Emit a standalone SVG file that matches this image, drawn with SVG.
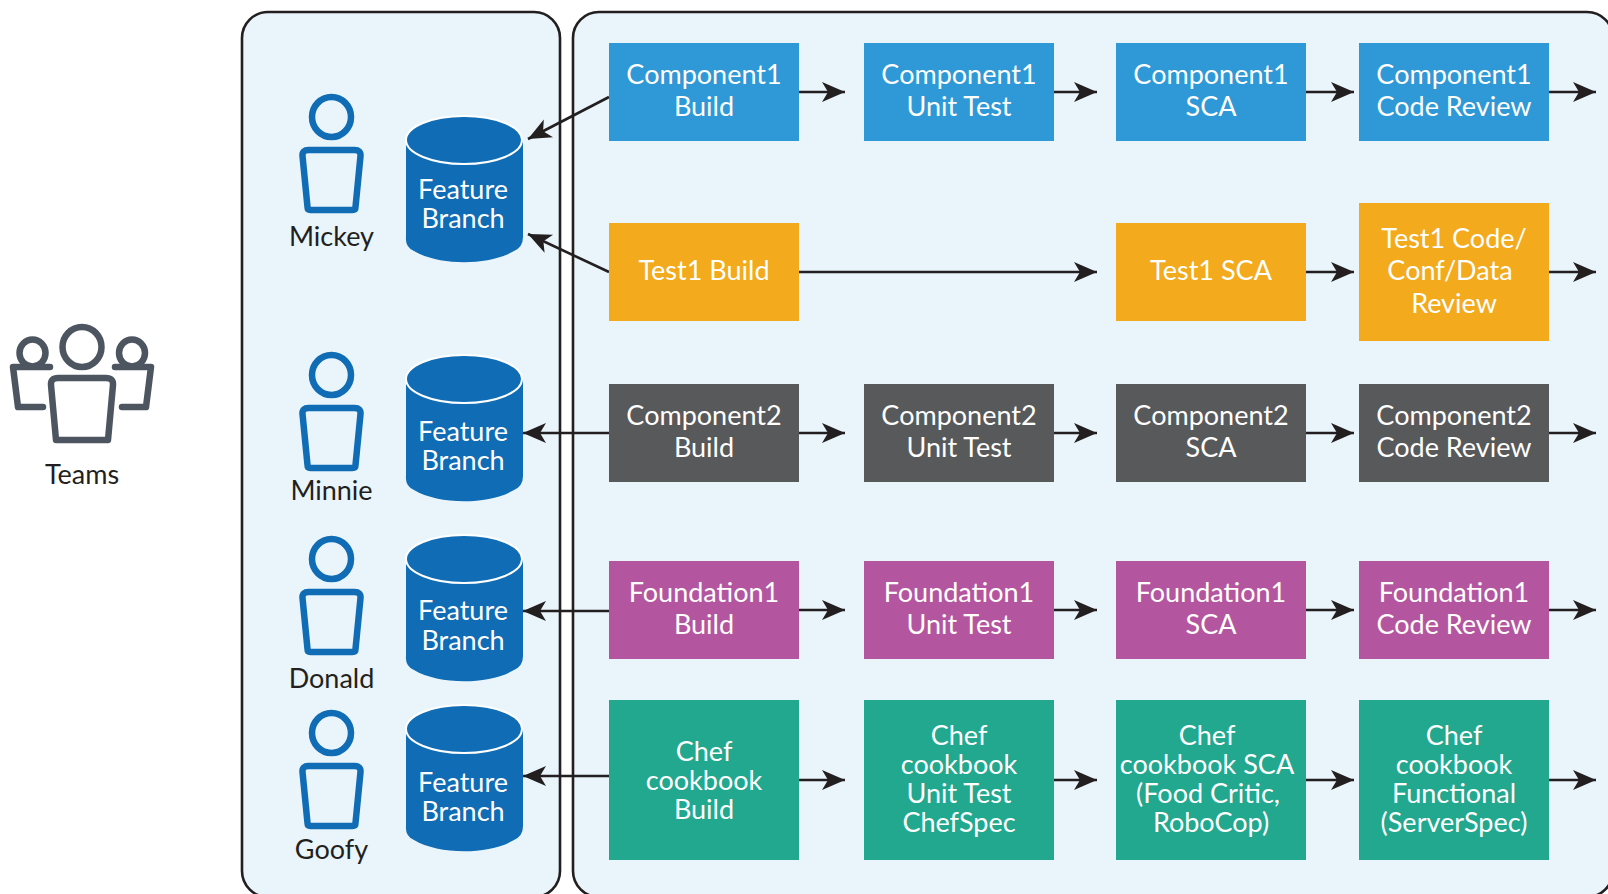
<svg xmlns="http://www.w3.org/2000/svg" xmlns:xlink="http://www.w3.org/1999/xlink" width="1608" height="894" viewBox="0 0 1608 894">
<style>
text{font-family:"Lato","Liberation Sans",sans-serif;font-size:27px;text-anchor:middle}
.w{fill:#fff}.d{fill:#231f20}
.panel{fill:#e9f5fa;stroke:#231f20;stroke-width:2.6}
.c1{fill:#2e99d6}.t1{fill:#f3aa1c}.c2{fill:#58595b}.f1{fill:#b4569f}.ch{fill:#21a88e}
.p{fill:none;stroke:#0f6cb5;stroke-width:6.500;stroke-linejoin:round}
.g{fill:none;stroke:#4d5660;stroke-width:6.500;stroke-linejoin:round;stroke-linecap:round}
.cy{fill:#0f6cb5}.top{fill:#0f6cb5;stroke:#fff;stroke-width:2}
.a{fill:none;stroke:#231f20;stroke-width:2.6;marker-end:url(#ah)}
</style>
<defs>
<marker id="ah" markerUnits="userSpaceOnUse" markerWidth="24" markerHeight="24" viewBox="0 0 24 24" refX="23" refY="12" orient="auto"><path d="M0 2 L23 12 L0 22 L6 12Z" fill="#231f20"/></marker>
<g id="person"><ellipse cx="0" cy="0" rx="19.5" ry="20" class="p"/><path d="M-23 33 H23 Q29.500 33 29 39 L24 90 Q24 93 21 93 H-21 Q-24 93 -24 90 L-29 39 Q-29.500 33 -23 33Z" class="p"/></g>
<g id="cyl"><path d="M-58 0 V97 Q-59 107 -50 111 C-25 126 25 126 50 111 Q59 107 59 97 V0Z" class="cy"/><ellipse cx="0" cy="0" rx="58" ry="24" class="top"/></g>
</defs>
<rect width="1608" height="894" fill="#fff"/>
<rect x="242" y="12" width="318" height="885" rx="26" class="panel"/>
<rect x="573" y="12" width="1040" height="885" rx="26" class="panel"/>
<g id="teams">
<ellipse cx="82" cy="347" rx="19.5" ry="20" class="g"/>
<path d="M58 378 H106 Q113.500 378 113 385 L108 440 H56 L51 385 Q50.500 378 58 378Z" class="g"/>
<ellipse cx="32.500" cy="353" rx="13" ry="13.500" class="g"/>
<ellipse cx="132" cy="353" rx="13" ry="13.500" class="g"/>
<path d="M50 367 H13 L18 407 H43" class="g"/>
<path d="M115 367 H151 L146 407 H122" class="g"/>
<text x="82" y="484" class="d">Teams</text>
</g>
<g id="mickey"><use xlink:href="#person" href="#person" x="331.500" y="117"/><text x="331.500" y="246" class="d">Mickey</text></g>
<g id="minnie"><use xlink:href="#person" href="#person" x="331.500" y="375"/><text x="331.500" y="500" class="d">Minnie</text></g>
<g id="donald"><use xlink:href="#person" href="#person" x="331.500" y="559"/><text x="331.500" y="688" class="d">Donald</text></g>
<g id="goofy"><use xlink:href="#person" href="#person" x="331.500" y="733"/><text x="331.500" y="859" class="d">Goofy</text></g>
<g id="branch1"><use xlink:href="#cyl" href="#cyl" x="464" y="140"/><text x="463" y="199" class="w">Feature</text><text x="463" y="228" class="w">Branch</text></g>
<g id="branch2"><use xlink:href="#cyl" href="#cyl" x="464" y="379"/><text x="463" y="441" class="w">Feature</text><text x="463" y="470" class="w">Branch</text></g>
<g id="branch3"><use xlink:href="#cyl" href="#cyl" x="464" y="559"/><text x="463" y="620" class="w">Feature</text><text x="463" y="650" class="w">Branch</text></g>
<g id="branch4"><use xlink:href="#cyl" href="#cyl" x="464" y="729"/><text x="463" y="792" class="w">Feature</text><text x="463" y="821" class="w">Branch</text></g>
<g id="connectors">
<path class="a" d="M609 97 L528 139"/><path class="a" d="M609 272 L528 234"/><path class="a" d="M609 433 H523"/><path class="a" d="M609 611 H523"/><path class="a" d="M609 776 H523"/>
<path class="a" d="M799 92 H845"/><path class="a" d="M1054 92 H1097"/><path class="a" d="M1306 92 H1354"/><path class="a" d="M1549 92 H1596"/>
<path class="a" d="M799 272 H1097"/><path class="a" d="M1306 272 H1354"/><path class="a" d="M1549 272 H1596"/>
<path class="a" d="M799 433 H845"/><path class="a" d="M1054 433 H1097"/><path class="a" d="M1306 433 H1354"/><path class="a" d="M1549 433 H1596"/>
<path class="a" d="M799 610 H845"/><path class="a" d="M1054 610 H1097"/><path class="a" d="M1306 610 H1354"/><path class="a" d="M1549 610 H1596"/>
<path class="a" d="M799 780 H845"/><path class="a" d="M1054 780 H1097"/><path class="a" d="M1306 780 H1354"/><path class="a" d="M1549 780 H1596"/>
</g>
<g id="c1build"><rect x="609" y="43" width="190" height="98" class="c1"/><text x="704" y="84" class="w">Component1</text><text x="704" y="116" class="w">Build</text></g>
<g id="c1unit"><rect x="864" y="43" width="190" height="98" class="c1"/><text x="959" y="84" class="w">Component1</text><text x="959" y="116" class="w">Unit Test</text></g>
<g id="c1sca"><rect x="1116" y="43" width="190" height="98" class="c1"/><text x="1211" y="84" class="w">Component1</text><text x="1211" y="116" class="w">SCA</text></g>
<g id="c1review"><rect x="1359" y="43" width="190" height="98" class="c1"/><text x="1454" y="84" class="w">Component1</text><text x="1454" y="116" class="w">Code Review</text></g>
<g id="t1build"><rect x="609" y="223" width="190" height="98" class="t1"/><text x="704" y="280" class="w">Test1 Build</text></g>
<g id="t1sca"><rect x="1116" y="223" width="190" height="98" class="t1"/><text x="1211" y="280" class="w">Test1 SCA</text></g>
<g id="t1review"><rect x="1359" y="203" width="190" height="138" class="t1"/><text x="1454" y="248" class="w">Test1 Code/</text><text x="1450" y="280" class="w">Conf/Data</text><text x="1454" y="313" class="w">Review</text></g>
<g id="c2build"><rect x="609" y="384" width="190" height="98" class="c2"/><text x="704" y="425" class="w">Component2</text><text x="704" y="457" class="w">Build</text></g>
<g id="c2unit"><rect x="864" y="384" width="190" height="98" class="c2"/><text x="959" y="425" class="w">Component2</text><text x="959" y="457" class="w">Unit Test</text></g>
<g id="c2sca"><rect x="1116" y="384" width="190" height="98" class="c2"/><text x="1211" y="425" class="w">Component2</text><text x="1211" y="457" class="w">SCA</text></g>
<g id="c2review"><rect x="1359" y="384" width="190" height="98" class="c2"/><text x="1454" y="425" class="w">Component2</text><text x="1454" y="457" class="w">Code Review</text></g>
<g id="f1build"><rect x="609" y="561" width="190" height="98" class="f1"/><text x="704" y="602" class="w">Foundation1</text><text x="704" y="634" class="w">Build</text></g>
<g id="f1unit"><rect x="864" y="561" width="190" height="98" class="f1"/><text x="959" y="602" class="w">Foundation1</text><text x="959" y="634" class="w">Unit Test</text></g>
<g id="f1sca"><rect x="1116" y="561" width="190" height="98" class="f1"/><text x="1211" y="602" class="w">Foundation1</text><text x="1211" y="634" class="w">SCA</text></g>
<g id="f1review"><rect x="1359" y="561" width="190" height="98" class="f1"/><text x="1454" y="602" class="w">Foundation1</text><text x="1454" y="634" class="w">Code Review</text></g>
<g id="chbuild"><rect x="609" y="700" width="190" height="160" class="ch"/><text x="704" y="761" class="w">Chef</text><text x="704" y="790" class="w">cookbook</text><text x="704" y="819" class="w">Build</text></g>
<g id="chunit"><rect x="864" y="700" width="190" height="160" class="ch"/><text x="959" y="745" class="w">Chef</text><text x="959" y="774" class="w">cookbook</text><text x="959" y="803" class="w">Unit Test</text><text x="959" y="832" class="w">ChefSpec</text></g>
<g id="chsca"><rect x="1116" y="700" width="190" height="160" class="ch"/><text x="1207" y="745" class="w">Chef</text><text x="1207" y="774" class="w">cookbook SCA</text><text x="1208" y="803" class="w">(Food Critic,</text><text x="1211" y="832" class="w">RoboCop)</text></g>
<g id="chfunc"><rect x="1359" y="700" width="190" height="160" class="ch"/><text x="1454" y="745" class="w">Chef</text><text x="1454" y="774" class="w">cookbook</text><text x="1454" y="803" class="w">Functional</text><text x="1454" y="832" class="w">(ServerSpec)</text></g>
</svg>
